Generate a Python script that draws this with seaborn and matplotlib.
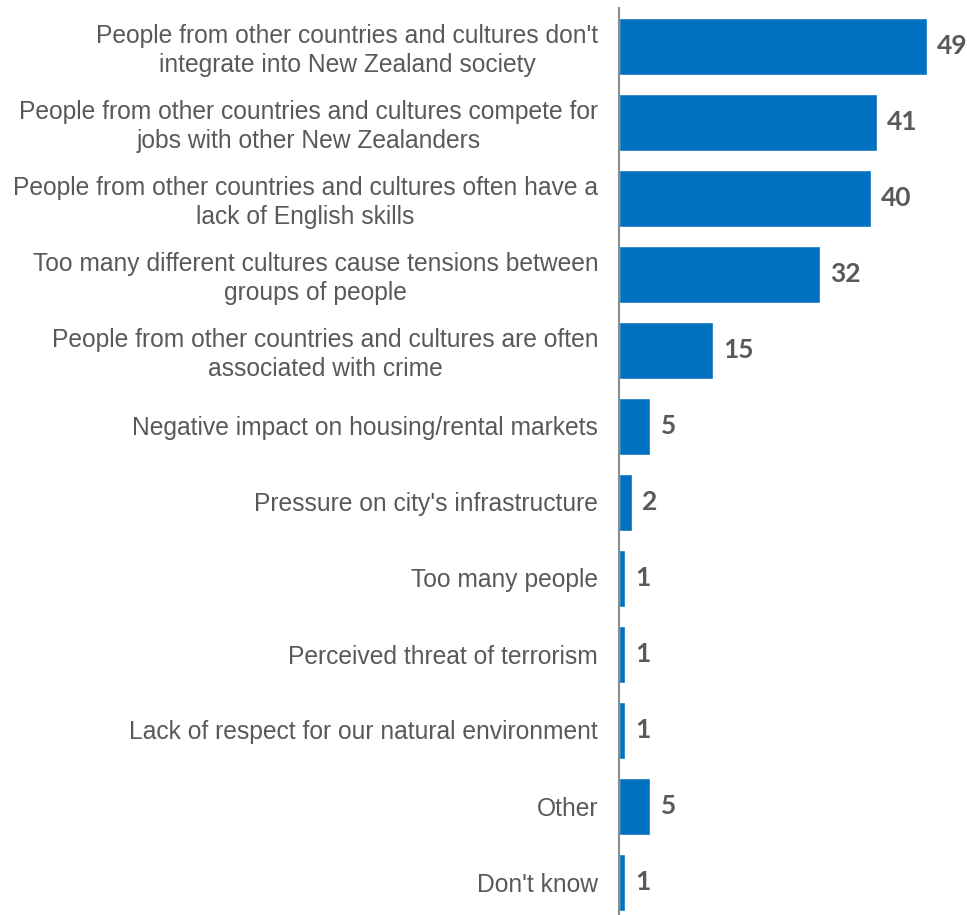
import matplotlib
matplotlib.use("Agg")
import matplotlib.pyplot as plt
import seaborn as sns
import pandas as pd

categories = [
    "People from other countries and cultures don't\nintegrate into New Zealand society",
    "People from other countries and cultures compete for\njobs with other New Zealanders",
    "People from other countries and cultures often have a\nlack of English skills",
    "Too many different cultures cause tensions between\ngroups of people",
    "People from other countries and cultures are often\nassociated with crime",
    "Negative impact on housing/rental markets",
    "Pressure on city's infrastructure",
    "Too many people",
    "Perceived threat of terrorism",
    "Lack of respect for our natural environment",
    "Other",
    "Don't know",
]
values = [49, 41, 40, 32, 15, 5, 2, 1, 1, 1, 5, 1]

df = pd.DataFrame({"category": categories, "value": values})

sns.set_theme(style="white")
plt.rcParams["font.family"] = ["Liberation Sans", "DejaVu Sans"]

fig = plt.figure(figsize=(9.67, 9.15), dpi=100)
ax = fig.add_axes([619 / 967, 0.0, 348 / 967, 1 - 8 / 915])

sns.barplot(data=df, x="value", y="category", orient="h", color="#0070C0",
            saturation=1, width=0.75, ax=ax, order=categories)

ax.set_xlim(0, 348 / 6.29)
ax.set_ylim(11 + (915 - 882) / 76, -0.5)
ax.set_xlabel("")
ax.set_ylabel("")
ax.set_xticks([])

for s in ["top", "right", "bottom"]:
    ax.spines[s].set_visible(False)
ax.spines["left"].set_color("#8c8c8c")
ax.spines["left"].set_linewidth(1.5)

ax.tick_params(axis="y", length=0, pad=15, labelsize=17.7, labelcolor="#595959")
for lbl in ax.get_yticklabels():
    lbl.set_multialignment("center")
    lbl.set_linespacing(1.25)

for i, v in enumerate(values):
    ax.text(v + 1.6, i, str(v), va="center", ha="left", fontsize=19,
            fontweight="bold", color="#595959", family=["Lato", "DejaVu Sans"])

fig.savefig("out.png", dpi=100)
